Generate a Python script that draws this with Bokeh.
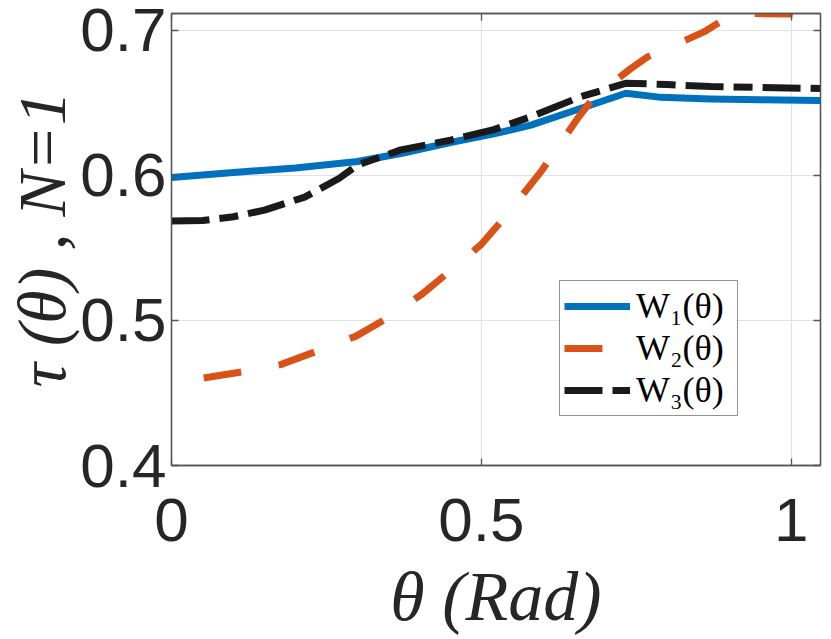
from bokeh.plotting import figure
from bokeh.models import Range1d, FixedTicker, LinearAxis, Legend, LegendItem
from bokeh.embed import file_html
from bokeh.resources import INLINE

# ---- data ----
theta_w1 = [0.0, 0.1, 0.2, 0.3, 0.37, 0.45, 0.52, 0.58, 0.66, 0.733, 0.79, 0.87, 0.95, 1.0472]
w1 = [0.5985, 0.602, 0.605, 0.6095, 0.615, 0.6226, 0.6285, 0.6346, 0.646, 0.6565, 0.6537, 0.6525, 0.652, 0.6515]

theta_w2 = [0.052, 0.114, 0.176, 0.234, 0.297, 0.348, 0.403, 0.452, 0.5, 0.541, 0.598, 0.655,
            0.682, 0.741, 0.768, 0.8, 0.859, 0.9, 0.93, 1.0, 1.0472]
w2 = [0.4603, 0.4645, 0.4695, 0.4787, 0.489, 0.5016, 0.5177, 0.535, 0.5525, 0.5727, 0.6036, 0.639,
      0.654, 0.6735, 0.6816, 0.6875, 0.6988, 0.7095, 0.7115, 0.7112, 0.7105]

theta_w3 = [0.0, 0.05, 0.1, 0.15, 0.215, 0.27, 0.3, 0.37, 0.45, 0.52, 0.58, 0.66, 0.734, 0.8,
            0.87, 0.95, 1.0472]
w3 = [0.5685, 0.5688, 0.5714, 0.576, 0.585, 0.5978, 0.607, 0.6175, 0.6242, 0.6315, 0.6403, 0.6541,
      0.6635, 0.6625, 0.6612, 0.6606, 0.6598]

series_labels = ["W\u2081(\u03b8)", "W\u2082(\u03b8)", "W\u2083(\u03b8)"]
x_ticks = [0, 0.5, 1]
x_tick_labels = ["0", "0.5", "1"]
y_ticks = [0.4, 0.5, 0.6, 0.7]
y_tick_labels = ["0.4", "0.5", "0.6", "0.7"]
x_limits = (0.0, 1.0472)
y_limits = (0.4, 0.7115)
x_title = "\u03b8 (Rad)"
y_title = "\u03c4 (\u03b8) , N=1"

AX = "#555555"
TXT = "#262626"

p = figure(width=831, height=639, output_backend="svg", toolbar_location=None,
           x_range=Range1d(*x_limits), y_range=Range1d(*y_limits),
           min_border_left=171, min_border_right=11, min_border_top=13, min_border_bottom=174,
           background_fill_color="white", border_fill_color="white")
p.outline_line_color = AX
p.outline_line_width = 1.3

r1 = p.line(theta_w1, w1, line_color="#0072BD", line_width=7, line_join="round")
r2 = p.line(theta_w2, w2, line_color="#D95319", line_width=7, line_dash="38 38")
r3 = p.line(theta_w3, w3, line_color="#1a1a1a", line_width=7, line_dash="38 10 19 10")

xa = p.xaxis[0]
ya = p.yaxis[0]
xa.ticker = FixedTicker(ticks=x_ticks)
ya.ticker = FixedTicker(ticks=y_ticks)
xa.major_label_overrides = {t: l for t, l in zip(x_ticks, x_tick_labels)}
ya.major_label_overrides = {t: l for t, l in zip(y_ticks, y_tick_labels)}
xa.axis_label = x_title
ya.axis_label = y_title
for ax in (xa, ya):
    ax.major_tick_in = 7
    ax.major_tick_out = 0
    ax.minor_tick_in = 0
    ax.minor_tick_out = 0
    ax.axis_line_color = AX
    ax.axis_line_width = 1.3
    ax.major_tick_line_color = AX
    ax.major_tick_line_width = 1.3
    ax.major_label_text_font = "Liberation Sans"
    ax.major_label_text_font_size = "62px"
    ax.major_label_text_color = TXT
    ax.axis_label_text_font = "Liberation Serif"
    ax.axis_label_text_font_style = "italic"
    ax.axis_label_text_color = TXT
xa.axis_label_text_font_size = "70px"
ya.axis_label_text_font_size = "68px"
xa.major_label_standoff = 33
ya.major_label_standoff = 5
xa.axis_label_standoff = 14
ya.axis_label_standoff = -3

for ticks, side in ((y_ticks, "right"), (x_ticks, "above")):
    a = LinearAxis(ticker=FixedTicker(ticks=ticks),
                   major_label_overrides={t: "" for t in ticks},
                   major_label_text_font_size="1px", major_label_standoff=0,
                   major_tick_in=7, major_tick_out=0, minor_tick_in=0, minor_tick_out=0,
                   axis_line_color=AX, axis_line_width=1.3,
                   major_tick_line_color=AX, major_tick_line_width=1.3)
    p.add_layout(a, side)

p.xgrid.ticker = FixedTicker(ticks=x_ticks)
p.ygrid.ticker = FixedTicker(ticks=y_ticks)
for g in (p.xgrid[0], p.ygrid[0]):
    g.grid_line_color = "#e2e2e2"
    g.grid_line_width = 1.2

legend = Legend(items=[LegendItem(label=series_labels[0], renderers=[r1]),
                       LegendItem(label=series_labels[1], renderers=[r2]),
                       LegendItem(label=series_labels[2], renderers=[r3])],
                location=(388, 49), orientation="vertical",
                border_line_color="#262626", border_line_width=1.2,
                background_fill_color="white", background_fill_alpha=1.0,
                padding=4, spacing=0, margin=0,
                glyph_width=66, glyph_height=40, label_standoff=6, label_width=97,
                label_text_font="Liberation Serif", label_text_font_size="36px",
                label_text_color="black")
p.add_layout(legend, "center")

open("out.html", "w").write(file_html(p, INLINE))
